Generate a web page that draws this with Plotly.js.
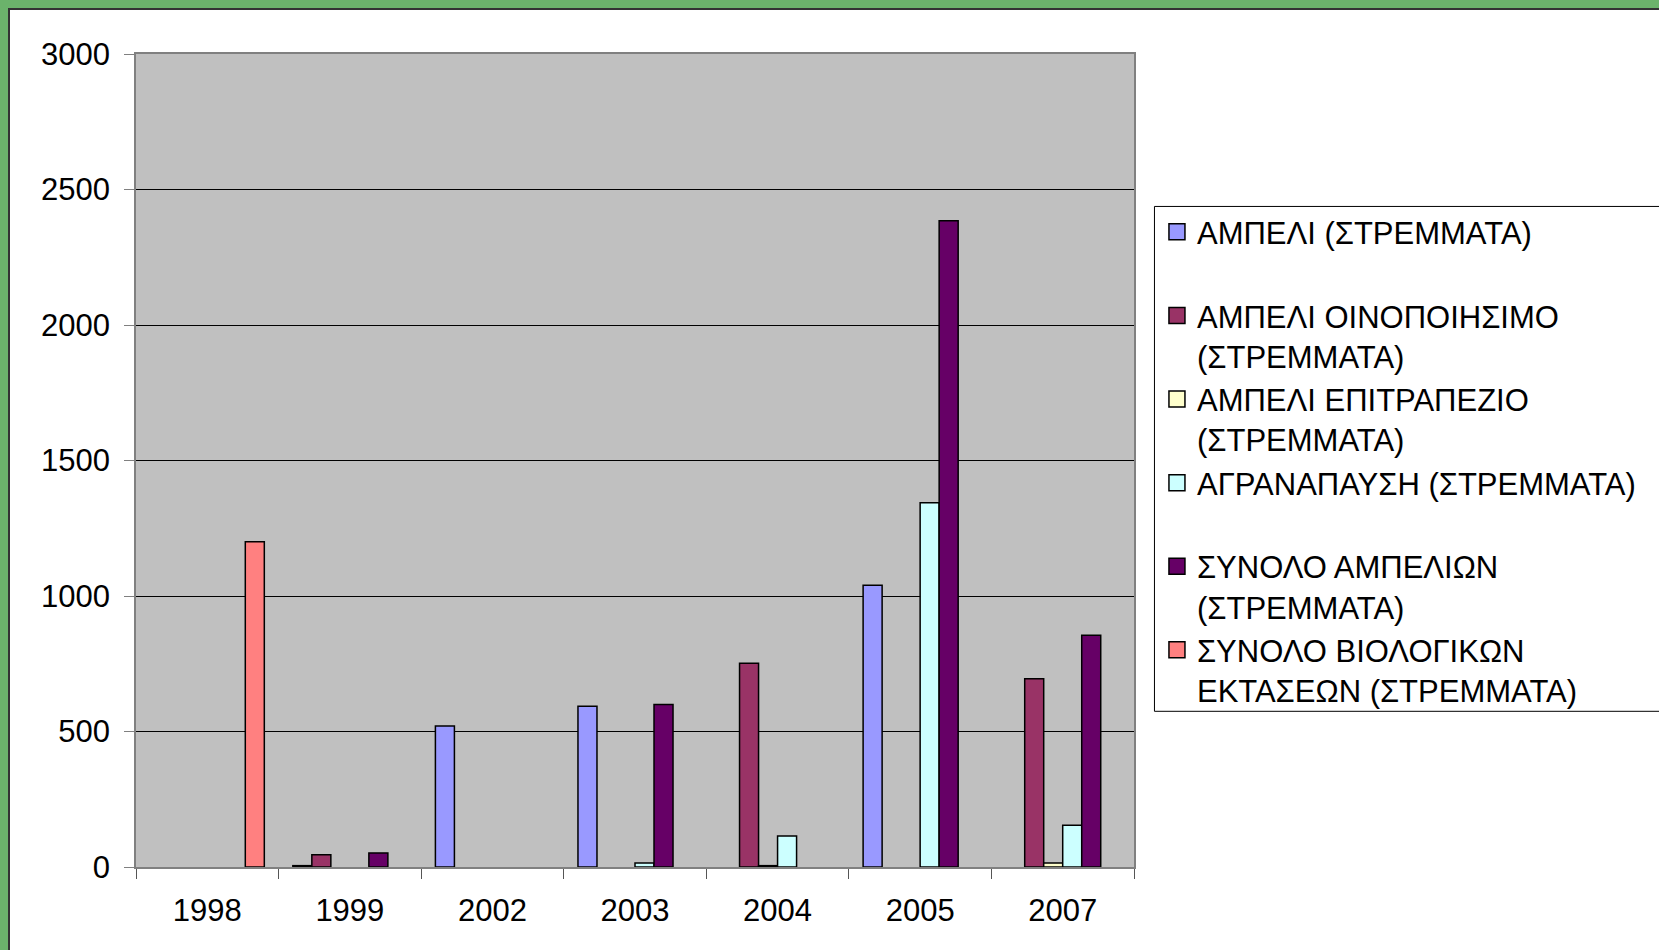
<!DOCTYPE html>
<html>
<head>
<meta charset="utf-8">
<script src="https://cdn.plot.ly/plotly-3.0.1.min.js"></script>
<style>
  html, body { margin: 0; padding: 0; width: 1659px; height: 950px; overflow: hidden; background: #6bb36b; }
  #frame { position: absolute; left: 8px; top: 8px; width: 1651px; height: 942px; background: #ffffff;
           border-left: 2px solid #333333; border-top: 2px solid #333333; box-sizing: border-box; }
  #chart { position: absolute; left: 0; top: 0; width: 1649px; height: 940px; }
</style>
</head>
<body>
<div id="frame"><div id="chart"></div></div>
<script>
// Categories (years)
const years = ['1998', '1999', '2002', '2003', '2004', '2005', '2007'];

// Series values (στρέμματα)
const ampeli             = [null, 5,   520,  593,  null, 1040, null];
const ampeliOinopoiisimo = [null, 45,  null, null, 752,  null, 695];
const ampeliEpitrapezio  = [null, null, null, null, 5,   null, 15];
const agranapausi        = [null, null, null, 15,  114,  1344, 154];
const synoloAmpelion     = [null, 52,  null, 600,  null, 2385, 855];
const synoloBiologikon   = [1200, null, null, null, null, null, null];

// Legend names
const names = [
  'ΑΜΠΕΛΙ (ΣΤΡΕΜΜΑΤΑ)<br>\u00a0',
  'ΑΜΠΕΛΙ ΟΙΝΟΠΟΙΗΣΙΜΟ<br>(ΣΤΡΕΜΜΑΤΑ)',
  'ΑΜΠΕΛΙ ΕΠΙΤΡΑΠΕΖΙΟ<br>(ΣΤΡΕΜΜΑΤΑ)',
  'ΑΓΡΑΝΑΠΑΥΣΗ (ΣΤΡΕΜΜΑΤΑ)<br>\u00a0',
  'ΣΥΝΟΛΟ ΑΜΠΕΛΙΩΝ<br>(ΣΤΡΕΜΜΑΤΑ)',
  'ΣΥΝΟΛΟ ΒΙΟΛΟΓΙΚΩΝ<br>ΕΚΤΑΣΕΩΝ (ΣΤΡΕΜΜΑΤΑ)'
];
const colors = ['#9999ff', '#993366', '#ffffcc', '#ccffff', '#660066', '#ff8080'];
const series = [ampeli, ampeliOinopoiisimo, ampeliEpitrapezio, agranapausi, synoloAmpelion, synoloBiologikon];

const font = 'Liberation Sans, Arial, sans-serif';
const fs = 31;

// Bars (no legend entries of their own)
const barTraces = series.map((vals, i) => ({
  type: 'bar',
  x: years,
  y: vals,
  name: names[i].split('<br>')[0],
  showlegend: false,
  marker: { color: colors[i], line: { color: '#000000', width: 1.5 } },
  hoverinfo: 'x+y'
}));

// Legend-only entries with square keys (Excel-like larger swatches)
const legendTraces = series.map((vals, i) => ({
  type: 'scatter',
  mode: 'markers',
  x: [null],
  y: [null],
  name: names[i],
  legendgroup: 'g' + i,
  showlegend: true,
  hoverinfo: 'skip',
  marker: { symbol: 'square', size: 16, color: colors[i], line: { color: '#000000', width: 1.5 } }
}));

// Legend frame position (paper coords relative to plot area)
const legendLeft = 1.0205, legendTop = 0.8125, legendBottom = 0.1915;

const layout = {
  width: 1649,
  height: 940,
  margin: { l: 126, r: 524.5, t: 43.5, b: 83.3, autoexpand: false },
  paper_bgcolor: '#ffffff',
  plot_bgcolor: '#c0c0c0',
  barmode: 'group',
  bargap: 0.2,
  bargroupgap: 0,
  font: { family: font, size: fs, color: '#000000' },
  xaxis: {
    type: 'category',
    categoryorder: 'array',
    categoryarray: years,
    tickson: 'boundaries',
    ticks: 'outside',
    ticklen: 10,
    tickcolor: '#555555',
    tickwidth: 1,
    showline: true,
    linecolor: '#808080',
    linewidth: 1.5,
    mirror: true,
    showgrid: false,
    tickfont: { family: font, size: fs, color: '#000000' },
    ticklabelstandoff: 15
  },
  yaxis: {
    range: [0, 3000],
    dtick: 500,
    tick0: 0,
    ticks: 'outside',
    ticklen: 10,
    tickcolor: '#808080',
    tickwidth: 1,
    showline: true,
    linecolor: '#808080',
    linewidth: 1.5,
    mirror: true,
    showgrid: true,
    gridcolor: '#000000',
    gridwidth: 1,
    zeroline: false,
    tickfont: { family: font, size: fs, color: '#000000' },
    ticklabelstandoff: 8
  },
  legend: {
    x: legendLeft + 0.0025,
    xanchor: 'left',
    y: legendTop + 0.0015,
    yanchor: 'top',
    valign: 'top',
    traceorder: 'grouped',
    tracegroupgap: 0,
    bgcolor: 'rgba(0,0,0,0)',
    borderwidth: 0,
    font: { family: font, size: fs, color: '#000000' }
  },
  shapes: [{
    type: 'rect', xref: 'paper', yref: 'paper',
    x0: legendLeft, x1: 1.7, y0: legendBottom, y1: legendTop,
    line: { color: '#000000', width: 1 }, fillcolor: '#ffffff', layer: 'below'
  }],
  showlegend: true
};

Plotly.newPlot('chart', barTraces.concat(legendTraces), layout, { displayModeBar: false, responsive: false });
</script>
</body>
</html>
